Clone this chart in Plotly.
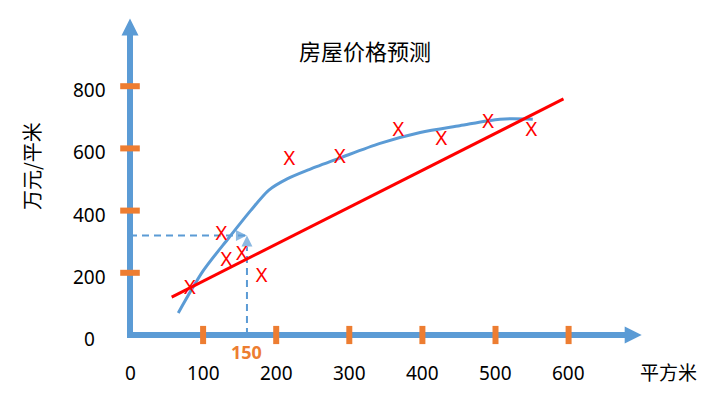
import plotly.graph_objects as go

# ---------------- data ----------------
x_tick_values = [0, 100, 200, 300, 400, 500, 600]
x_tick_labels = ["0", "100", "200", "300", "400", "500", "600"]
y_tick_values = [0, 200, 400, 600, 800]
y_tick_labels = ["0", "200", "400", "600", "800"]

sample_area = [82, 125, 132, 153, 180, 218, 287, 367, 426, 490, 549]
sample_price = [148, 321, 238, 257, 188, 562, 570, 656, 626, 681, 656]

fit_line_area = [57, 593]
fit_line_price = [122, 759]

curve_area = [66, 100, 135, 165, 190, 215, 245, 287, 342, 397, 451, 506, 551]
curve_price = [71, 206, 312, 400, 466, 502, 532, 569, 616, 651, 673, 694, 694]

predict_area = 160
predict_price = 320
predict_label = "150"

title_text = "房屋价格预测"
x_title = "平方米"
y_title = "万元/平米"

# ---------------- layout geometry ----------------
OFF = 8                      # page body margin in the browser
W, H = 720 - 2 * OFF, 397 - 2 * OFF
X0_PX, Y0_PX = 130 - OFF, 335 - OFF   # pixel position of data origin inside the figure
SX, SY = 0.731, 0.311        # pixels per data unit
x_range = [-X0_PX / SX, (W - X0_PX) / SX]
y_range = [-(H - Y0_PX) / SY, Y0_PX / SY]


def px(x):
    return (x - OFF) / W


def py(y):
    return 1 - (y - OFF) / H


X_AXIS_END = 700
Y_AXIS_END = 1018

BLUE = "#5B9BD5"
ORANGE = "#ED7D31"
RED = "#FF0000"
FONT = "Noto Sans, Noto Sans CJK SC, sans-serif"
CJK = "Noto Sans CJK SC, Noto Sans, sans-serif"

fig = go.Figure()

# axes lines
fig.add_trace(go.Scatter(x=[0, 0], y=[-3 / SY, Y_AXIS_END - 10 / SY], mode="lines",
                         line=dict(color=BLUE, width=6), hoverinfo="skip"))
fig.add_trace(go.Scatter(x=[-3 / SX, X_AXIS_END - 10 / SX], y=[0, 0], mode="lines",
                         line=dict(color=BLUE, width=6), hoverinfo="skip"))
fig.add_trace(go.Scatter(x=[0, X_AXIS_END], y=[Y_AXIS_END, 0], mode="markers",
                         marker=dict(symbol=["arrow-up", "arrow-right"], size=17, color=BLUE,
                                     line=dict(width=0)), hoverinfo="skip"))

# orange tick marks
fig.add_trace(go.Scatter(x=x_tick_values[1:], y=[0] * (len(x_tick_values) - 1), mode="markers",
                         marker=dict(symbol="line-ns", size=13, line=dict(color=ORANGE, width=6)),
                         hoverinfo="skip"))
fig.add_trace(go.Scatter(x=[0] * (len(y_tick_values) - 1), y=y_tick_values[1:], mode="markers",
                         marker=dict(symbol="line-ew", size=14, line=dict(color=ORANGE, width=6)),
                         hoverinfo="skip"))

# dashed prediction guides
fig.add_trace(go.Scatter(x=[0, predict_area], y=[predict_price, predict_price], mode="lines+markers",
                         line=dict(color=BLUE, width=2, dash="7px,5px"),
                         marker=dict(symbol=["circle", "arrow-right"], size=[0, 11], color=BLUE,
                                     line=dict(width=0)),
                         hoverinfo="skip"))
fig.add_trace(go.Scatter(x=[predict_area, predict_area], y=[0, predict_price], mode="lines+markers",
                         line=dict(color=BLUE, width=2, dash="7px,5px"),
                         marker=dict(symbol=["circle", "arrow-up"], size=[0, 11], color=BLUE,
                                     line=dict(width=0)),
                         hoverinfo="skip"))

# fitted curve
fig.add_trace(go.Scatter(x=curve_area, y=curve_price, mode="lines",
                         line=dict(color=BLUE, width=3, shape="spline", smoothing=0.8)))
# linear fit
fig.add_trace(go.Scatter(x=fit_line_area, y=fit_line_price, mode="lines",
                         line=dict(color=RED, width=3)))
# samples
fig.add_trace(go.Scatter(x=sample_area, y=sample_price, mode="text", text=["X"] * len(sample_area),
                         textposition="middle center",
                         textfont=dict(color=RED, size=20, family=FONT)))

annotations = []
for v, t in zip(x_tick_values, x_tick_labels):
    annotations.append(dict(x=v, y=0, xref="x", yref="y", text=t, showarrow=False,
                            yshift=-38, font=dict(size=19, color="#000000", family=FONT),
                            xanchor="center", yanchor="middle"))
for v, t in zip(y_tick_values, y_tick_labels):
    annotations.append(dict(x=0, y=v, xref="x", yref="y", text=t, showarrow=False,
                            xshift=-41, yshift=-4, font=dict(size=19, color="#000000", family=FONT),
                            xanchor="center", yanchor="middle"))
annotations.append(dict(x=predict_area, y=0, xref="x", yref="y", text="<b>" + predict_label + "</b>",
                        showarrow=False, yshift=-17,
                        font=dict(size=18, color=ORANGE, family=FONT),
                        xanchor="center", yanchor="middle"))
annotations.append(dict(x=px(364.5), y=py(50.5), xref="paper", yref="paper", text=title_text,
                        showarrow=False, font=dict(size=22, color="#000000", family=CJK),
                        xanchor="center", yanchor="middle"))
annotations.append(dict(x=px(668), y=py(371), xref="paper", yref="paper", text=x_title,
                        showarrow=False, font=dict(size=19, color="#000000", family=CJK),
                        xanchor="center", yanchor="middle"))
annotations.append(dict(x=px(31), y=py(166), xref="paper", yref="paper", text=y_title,
                        showarrow=False, textangle=-90, font=dict(size=20, color="#000000", family=CJK),
                        xanchor="center", yanchor="middle"))

fig.update_layout(
    width=W, height=H,
    margin=dict(l=0, r=0, t=0, b=0),
    paper_bgcolor="white", plot_bgcolor="white",
    showlegend=False,
    xaxis=dict(range=x_range, visible=False, fixedrange=True),
    yaxis=dict(range=y_range, visible=False, fixedrange=True),
    annotations=annotations,
)

fig.write_html("out.html")
